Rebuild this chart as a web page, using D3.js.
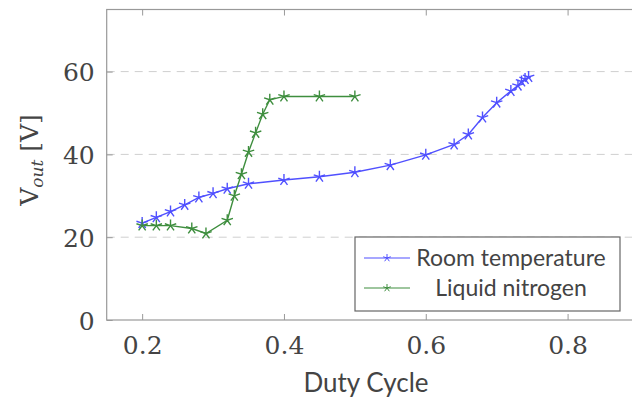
<!DOCTYPE html>
<html><head><meta charset="utf-8">
<script src="https://cdn.jsdelivr.net/npm/d3@7"></script>
<style>html,body{margin:0;padding:0;background:#fff;overflow:hidden}</style>
</head><body>
<svg id="c" width="632" height="398"></svg>
<script>
const roomX = [0.20,0.22,0.24,0.26,0.28,0.30,0.32,0.35,0.40,0.45,0.50,0.55,0.60,0.64,0.66,0.68,0.70,0.72,0.73,0.735,0.74,0.745];
const roomY = [23.4,24.8,26.2,27.8,29.6,30.6,31.7,32.9,33.8,34.6,35.7,37.4,39.9,42.4,44.8,48.9,52.5,55.3,56.6,57.6,58.2,58.7];
const nitroX = [0.20,0.22,0.24,0.27,0.29,0.32,0.33,0.34,0.35,0.36,0.37,0.38,0.40,0.45,0.50];
const nitroY = [22.8,22.8,22.8,22.1,20.9,24.1,30.0,35.2,40.6,45.2,49.7,53.2,54.0,54.0,54.0];
const xTicks = [0.2,0.4,0.6,0.8];
const yTicks = [0,20,40,60];
const yGrid = [20,40,60];
const seriesNames = ["Room temperature","Liquid nitrogen"];
const seriesColors = ["#5050ff","#3e8e3e"];

const svg = d3.select("#c");
const L = 106.7, R = 638.5, T = 9.5, B = 320;
const x = d3.scaleLinear().domain([0.15,0.9]).range([L,R]);
const y = d3.scaleLinear().domain([0,75]).range([B,T]);
const axisCol = "#999";

// grid
svg.append("g").selectAll("line").data(yGrid).join("line")
  .attr("x1",L).attr("x2",R).attr("y1",d=>y(d)).attr("y2",d=>y(d))
  .attr("stroke","#cfcfcf").attr("stroke-width",1).attr("stroke-dasharray","8,6");

// frame
svg.append("rect").attr("x",L).attr("y",T).attr("width",R-L).attr("height",B-T)
  .attr("fill","none").attr("stroke",axisCol).attr("stroke-width",1.2);

// axes via d3
const xb = svg.append("g").attr("transform",`translate(0,${B})`)
  .call(d3.axisBottom(x).tickValues(xTicks).tickSize(-6).tickPadding(16).tickFormat(d3.format(".1f")));
const xt = svg.append("g").attr("transform",`translate(0,${T})`)
  .call(d3.axisTop(x).tickValues(xTicks).tickSize(-6).tickFormat(""));
const yl = svg.append("g").attr("transform",`translate(${L},0)`)
  .call(d3.axisLeft(y).tickValues(yTicks).tickSize(-6).tickPadding(12).tickFormat(d3.format("d")));
[xb,xt,yl].forEach(g=>{
  g.select(".domain").remove();
  g.selectAll(".tick line").attr("stroke",axisCol).attr("stroke-width",1);
  g.selectAll(".tick text").attr("fill","#444").style("font-family","DejaVu Serif").style("font-size","25px");
});
yl.selectAll(".tick text").attr("dy","0.36em");
xb.selectAll(".tick text").attr("dy","0.71em");

// star marker path
function starPath(cx,cy,r){
  let p="";
  for(let k=0;k<5;k++){
    const a = -Math.PI/2 + k*2*Math.PI/5;
    p += `M${cx},${cy}L${cx+r*Math.cos(a)},${cy+r*Math.sin(a)}`;
  }
  return p;
}

const series = [
  {xs:roomX, ys:roomY, c:seriesColors[0]},
  {xs:nitroX, ys:nitroY, c:seriesColors[1]}
];
const line = d3.line().x(d=>x(d[0])).y(d=>y(d[1]));
series.forEach(s=>{
  const pts = s.xs.map((v,i)=>[v,s.ys[i]]);
  svg.append("path").datum(pts).attr("d",line).attr("fill","none")
    .attr("stroke",s.c).attr("stroke-width",1.4);
  svg.append("g").selectAll("path").data(pts).join("path")
    .attr("d",d=>starPath(x(d[0]),y(d[1]),6))
    .attr("stroke",s.c).attr("stroke-width",1.4).attr("fill","none");
});

// legend
const lg = svg.append("g");
lg.append("rect").attr("x",355).attr("y",237).attr("width",265).attr("height",74)
  .attr("fill","#fff").attr("stroke","#666").attr("stroke-width",1.2);
seriesNames.forEach((n,i)=>{
  const yy = 258 + i*30;
  lg.append("line").attr("x1",364).attr("x2",410).attr("y1",yy).attr("y2",yy)
    .attr("stroke",seriesColors[i]).attr("stroke-width",1.2);
  lg.append("path").attr("d",starPath(387,yy,4)).attr("stroke",seriesColors[i]).attr("stroke-width",1).attr("fill","none");
  lg.append("text").attr("x",511).attr("y",yy).attr("dy","0.36em").attr("text-anchor","middle")
    .style("font-family","Lato").style("font-size","23px").attr("fill","#444").text(n);
});

// axis titles
svg.append("text").attr("x",366).attr("y",392).attr("text-anchor","middle")
  .style("font-family","Lato").style("font-size","26px").attr("fill","#444").text("Duty Cycle");
const yt = svg.append("text").attr("transform","translate(38,160) rotate(-90)").attr("text-anchor","middle")
  .style("font-family","DejaVu Serif").style("font-size","25px").attr("fill","#444");
yt.append("tspan").text("V");
yt.append("tspan").attr("dy",5).style("font-size","17px").style("font-style","italic").text("out");
yt.append("tspan").attr("dy",-5).text(" [V]");
</script>
</body></html>
